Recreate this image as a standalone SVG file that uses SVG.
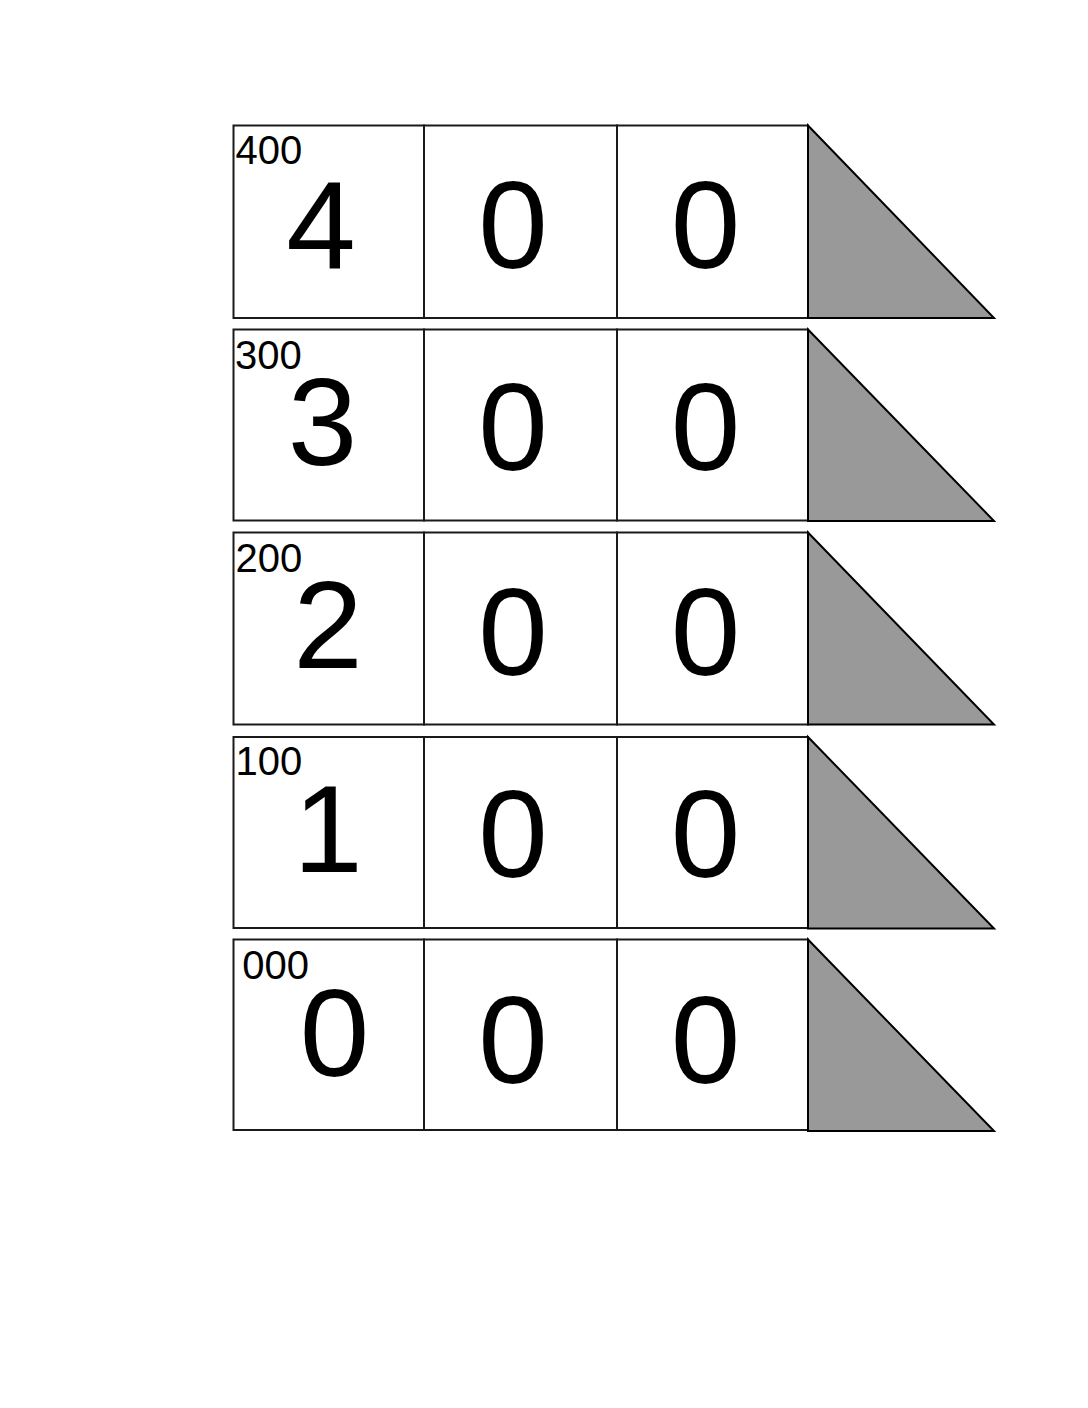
<svg xmlns="http://www.w3.org/2000/svg" width="1088" height="1408" viewBox="0 0 1088 1408">
<style>
.cell{fill:#ffffff;stroke:#1a1a1a;stroke-width:2}
.tri{fill:#999999;stroke:#000000;stroke-width:2;stroke-linejoin:miter}
.big{font-family:"Liberation Sans",Arial,sans-serif;font-size:125px;fill:#000;text-anchor:middle}
.small{font-family:"Liberation Sans",Arial,sans-serif;font-size:40px;fill:#000}
</style>
<rect width="1088" height="1408" fill="#ffffff"/>
<g id="row400">
<rect class="cell" x="233.5" y="125.5" width="190.5" height="192.5"/>
<rect class="cell" x="424" y="125.5" width="193" height="192.5"/>
<rect class="cell" x="617" y="125.5" width="191" height="192.5"/>
<polygon class="tri" points="808,125.5 994,318 808,318"/>
<text class="small" x="235.5" y="164">400</text>
<text class="big" x="321" y="268">4</text>
<text class="big" x="513" y="268">0</text>
<text class="big" x="705.5" y="268">0</text>
</g>
<g id="row300">
<rect class="cell" x="233.5" y="329.5" width="190.5" height="191"/>
<rect class="cell" x="424" y="329.5" width="193" height="191"/>
<rect class="cell" x="617" y="329.5" width="191" height="191"/>
<polygon class="tri" points="808,329.5 994,521 808,521"/>
<text class="small" x="235" y="368.5">300</text>
<text class="big" x="322.5" y="464.5">3</text>
<text class="big" x="513" y="469.5">0</text>
<text class="big" x="705.5" y="469.5">0</text>
</g>
<g id="row200">
<rect class="cell" x="233.5" y="532.5" width="190.5" height="192"/>
<rect class="cell" x="424" y="532.5" width="193" height="192"/>
<rect class="cell" x="617" y="532.5" width="191" height="192"/>
<polygon class="tri" points="808,532.5 994,724.5 808,724.5"/>
<text class="small" x="235.5" y="572">200</text>
<text class="big" x="328" y="668">2</text>
<text class="big" x="513" y="674.5">0</text>
<text class="big" x="705.5" y="674.5">0</text>
</g>
<g id="row100">
<rect class="cell" x="233.5" y="737" width="190.5" height="191"/>
<rect class="cell" x="424" y="737" width="193" height="191"/>
<rect class="cell" x="617" y="737" width="191" height="191"/>
<polygon class="tri" points="808,737 994,928.5 808,928.5"/>
<text class="small" x="235.5" y="774.5">100</text>
<text class="big" x="328" y="872">1</text>
<text class="big" x="513" y="876.5">0</text>
<text class="big" x="705.5" y="876.5">0</text>
</g>
<g id="row000">
<rect class="cell" x="233.5" y="939.5" width="190.5" height="190.5"/>
<rect class="cell" x="424" y="939.5" width="193" height="190.5"/>
<rect class="cell" x="617" y="939.5" width="191" height="190.5"/>
<polygon class="tri" points="808,939.5 994,1131 808,1131"/>
<text class="small" x="242.3" y="978.5">000</text>
<text class="big" x="334.5" y="1075.5">0</text>
<text class="big" x="513" y="1082.5">0</text>
<text class="big" x="705.5" y="1082.5">0</text>
</g>
</svg>
